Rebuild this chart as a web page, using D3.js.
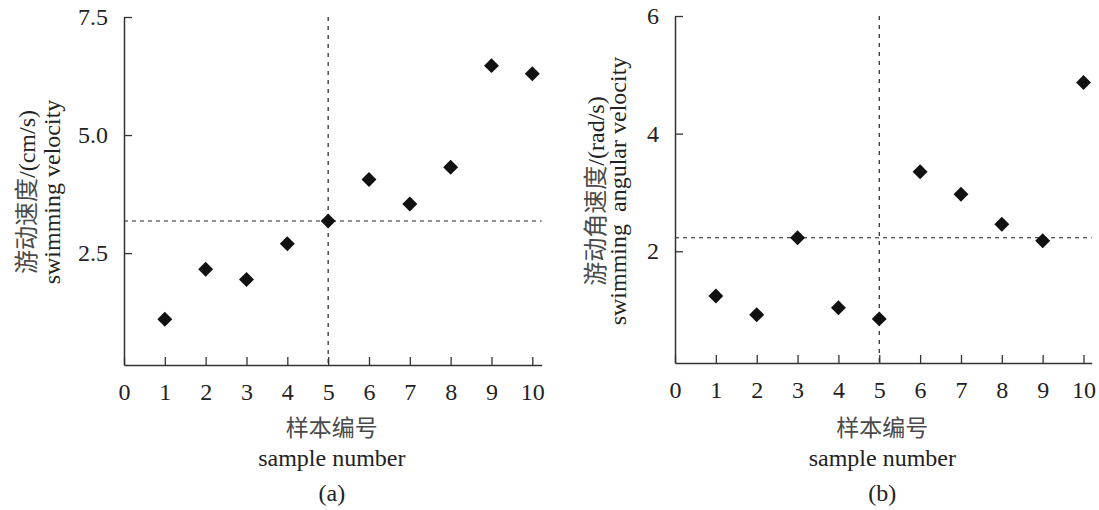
<!DOCTYPE html>
<html>
<head>
<meta charset="utf-8">
<script src="https://cdn.jsdelivr.net/npm/d3@7"></script>
<style>
body { margin:0; background:#fff; }
svg text { font-family: "Liberation Serif", "Noto Sans CJK SC", serif; fill:#222; }
svg tspan.cjk { fill:#4a4a4a; }
</style>
</head>
<body>
<svg id="fig" width="1099" height="510"></svg>
<script>
// sample numbers 1..10
var samples = [1,2,3,4,5,6,7,8,9,10];
var xTicks = [0,1,2,3,4,5,6,7,8,9,10];

// (a) swimming velocity cm/s
var velocity = [1.10,2.16,1.94,2.70,3.18,4.06,3.54,4.32,6.47,6.30];
var velocityTicks = [2.5,5.0,7.5];
var velocityRef = 3.18;   // horizontal dashed line
// (b) swimming angular velocity rad/s
var angular = [1.24,0.92,2.23,1.04,0.85,3.35,2.97,2.46,2.18,4.87];
var angularTicks = [2,4,6];
var angularRef = 2.23;
var sampleRef = 5;        // vertical dashed line

var svg = d3.select("#fig");
var axCol = "#333";

// split a label into CJK / latin runs so the CJK part can be a bit lighter
function addRuns(txt, str){
	var runs = str.match(/[\u4e00-\u9fff]+|[^\u4e00-\u9fff]+/g);
	runs.forEach(function(r){
		var t = txt.append("tspan").text(r);
		if(/[\u4e00-\u9fff]/.test(r)) t.attr("class","cjk");
	});
}

function drawPanel(cfg){
	var x = d3.scaleLinear().domain([0,cfg.xMax]).range([cfg.left,cfg.right]);
	var y = d3.scaleLinear().domain([cfg.yMin,cfg.yMax]).range([cfg.bottom,cfg.top]);
	var g = svg.append("g");

	// dashed reference lines
	g.append("line")
		.attr("x1",x(sampleRef)).attr("x2",x(sampleRef))
		.attr("y1",y(cfg.yMax)).attr("y2",y(cfg.yMin))
		.attr("stroke","#222").attr("stroke-width",1.2).attr("stroke-dasharray","4,5");
	g.append("line")
		.attr("x1",x(0)).attr("x2",x(cfg.xMax))
		.attr("y1",y(cfg.ref)).attr("y2",y(cfg.ref))
		.attr("stroke","#222").attr("stroke-width",1.2).attr("stroke-dasharray","4,4");

	// axes, ticks inside
	var xa = g.append("g").attr("transform","translate(0,"+cfg.bottom+")")
		.call(d3.axisBottom(x).tickValues(xTicks).tickSize(-8).tickPadding(18).tickSizeOuter(0).tickFormat(d3.format("d")));
	var ya = g.append("g").attr("transform","translate("+cfg.left+",0)")
		.call(d3.axisLeft(y).tickValues(cfg.ticks).tickSize(-8).tickPadding(16).tickSizeOuter(0).tickFormat(d3.format(cfg.fmt)));
	[xa,ya].forEach(function(a){
		a.select(".domain").attr("stroke",axCol).attr("stroke-width",1.5);
		a.selectAll(".tick line").attr("stroke",axCol).attr("stroke-width",1.3);
		a.selectAll(".tick text").attr("font-size",24).attr("fill","#222")
			.style("font-family","Liberation Serif");
	});
	ya.selectAll(".tick text").attr("dy","0.32em");

	// diamonds
	g.selectAll("path.pt").data(cfg.values).enter().append("path")
		.attr("class","pt")
		.attr("d",d3.symbol().type(d3.symbolSquare).size(112))
		.attr("transform",function(d,i){ return "translate("+x(samples[i])+","+y(d)+") rotate(45)"; })
		.attr("fill","#111");

	// y title, two rotated lines
	var cy = cfg.yTitleY;
	cfg.yTitle.forEach(function(t,i){
		var tx = g.append("text")
			.attr("transform","translate("+cfg.yTitleX[i]+","+cy+") rotate(-90)")
			.attr("text-anchor","middle").attr("dy","0.35em")
			.attr("font-size",24).style("white-space","pre");
		addRuns(tx,t);
	});

	// x title + panel letter
	var cx = (cfg.left+cfg.right)/2 - 1;
	var t1 = g.append("text").attr("x",cx).attr("y",436).attr("text-anchor","middle")
		.attr("font-size",23);
	addRuns(t1,"样本编号");
	g.append("text").attr("x",cx).attr("y",466).attr("text-anchor","middle")
		.attr("font-size",24).text("sample number");
	g.append("text").attr("x",cx).attr("y",501).attr("text-anchor","middle")
		.attr("font-size",24).text(cfg.letter);
}

drawPanel({left:124,right:541.7,xMax:10.23,top:17,bottom:365,yMin:0.13,yMax:7.5,
	values:velocity,ticks:velocityTicks,fmt:".1f",ref:velocityRef,
	yTitle:["游动速度/(cm/s)","swimming velocity"],yTitleX:[27,52],yTitleY:192,letter:"(a)"});

drawPanel({left:675,right:1091.7,xMax:10.2,top:16,bottom:363,yMin:0.1,yMax:6,
	values:angular,ticks:angularTicks,fmt:"d",ref:angularRef,
	yTitle:["游动角速度/(rad/s)","swimming  angular velocity"],yTitleX:[596,618],yTitleY:191,letter:"(b)"});
</script>
</body>
</html>
